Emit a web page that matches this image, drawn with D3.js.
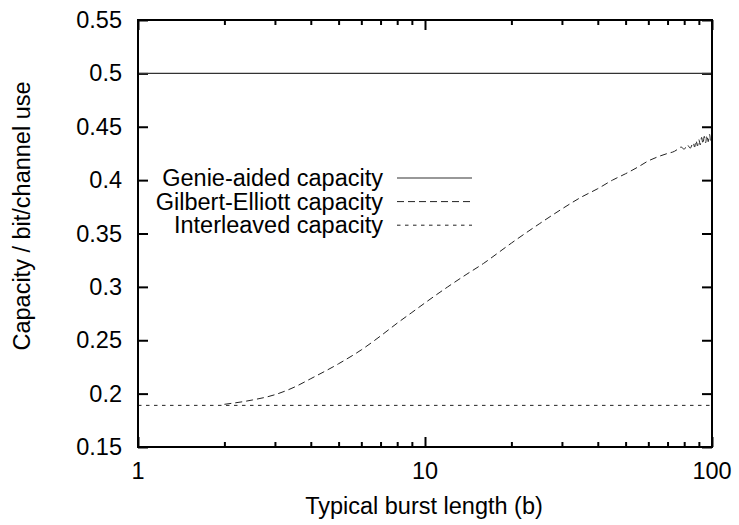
<!DOCTYPE html>
<html>
<head>
<meta charset="utf-8">
<script src="https://cdn.jsdelivr.net/npm/d3@7/dist/d3.min.js"></script>
<style>
  html, body { margin: 0; padding: 0; background: #fff; }
  svg { display: block; }
  text { font-family: "Liberation Sans", Arial, sans-serif; font-size: 23.5px; fill: #000; }
</style>
</head>
<body>
<svg id="chart" width="739" height="525"></svg>
<script>
// Typical burst length b and the Gilbert-Elliott capacity at each b
const burstLength = [2, 2.5, 3, 3.5, 4, 5, 6, 7, 8, 9, 10, 12, 14, 16, 18, 20, 25, 30, 35, 40, 45, 50,
  55, 60, 65, 70, 74, 76, 78, 80, 82, 84, 86, 87, 88, 89, 90, 91, 92, 93, 94, 95, 96, 97, 98, 99, 100];
const gilbertElliott = [0.190, 0.194, 0.199, 0.206, 0.214, 0.228, 0.241, 0.254, 0.266, 0.276, 0.285, 0.300,
  0.312, 0.322, 0.332, 0.341, 0.359, 0.373, 0.384, 0.392, 0.400, 0.406,
  0.412, 0.418, 0.422, 0.425, 0.427, 0.429, 0.431, 0.429, 0.433, 0.430, 0.435, 0.431, 0.437, 0.432,
  0.438, 0.433, 0.440, 0.434, 0.441, 0.435, 0.442, 0.436, 0.443, 0.437, 0.442];
// Constant capacities
const genieAided = 0.5;
const interleaved = 0.189;

const yTicks = [0.15, 0.2, 0.25, 0.3, 0.35, 0.4, 0.45, 0.5, 0.55];
const yTickLabels = ["0.15", "0.2", "0.25", "0.3", "0.35", "0.4", "0.45", "0.5", "0.55"];
const xMajorTicks = [1, 10, 100];
const xMinorTicks = [2, 3, 4, 5, 6, 7, 8, 9, 20, 30, 40, 50, 60, 70, 80, 90];

const legendNames = ["Genie-aided capacity", "Gilbert-Elliott capacity", "Interleaved capacity"];
const legendDash = ["none", "7,4", "3.5,4.5"];

const svg = d3.select("#chart");
const plotLeft = 138, plotRight = 712, plotTop = 20, plotBottom = 447;

const x = d3.scaleLog().domain([1, 100]).range([plotLeft, plotRight]);
const y = d3.scaleLinear().domain([0.15, 0.55]).range([plotBottom, plotTop]);

// Axes with ticks on all four sides, pointing into the plot
const tickStroke = g => g.selectAll("line").attr("stroke", "#000").attr("stroke-width", 2);
const noDomain = g => g.select(".domain").remove();

function tickRow(axis, values, size, transform) {
  svg.append("g").attr("transform", transform)
    .call(axis.tickValues(values).tickSize(size).tickFormat(""))
    .call(noDomain).call(tickStroke);
}
tickRow(d3.axisTop(x), xMajorTicks, 10, `translate(0,${plotBottom})`);
tickRow(d3.axisTop(x), xMinorTicks, 5, `translate(0,${plotBottom})`);
tickRow(d3.axisBottom(x), xMajorTicks, 10, `translate(0,${plotTop})`);
tickRow(d3.axisBottom(x), xMinorTicks, 5, `translate(0,${plotTop})`);
tickRow(d3.axisRight(y), yTicks, 10, `translate(${plotLeft},0)`);
tickRow(d3.axisLeft(y), yTicks, 10, `translate(${plotRight},0)`);

// Tick labels
svg.append("g").selectAll("text").data(yTicks).join("text")
  .attr("x", plotLeft - 16).attr("y", d => y(d) + 8)
  .attr("text-anchor", "end")
  .text((d, i) => yTickLabels[i]);
svg.append("g").selectAll("text").data(xMajorTicks).join("text")
  .attr("x", d => x(d)).attr("y", plotBottom + 32)
  .attr("text-anchor", "middle")
  .text(d => d);

// Axis titles
svg.append("text").attr("x", (plotLeft + plotRight) / 2 - 1).attr("y", 514)
  .attr("text-anchor", "middle").text("Typical burst length (b)");
svg.append("text").attr("transform", `translate(30,216) rotate(-90)`)
  .attr("text-anchor", "middle").text("Capacity / bit/channel use");

// Curves
const plot = svg.append("g");
plot.append("line")
  .attr("x1", x(1)).attr("x2", x(100))
  .attr("y1", y(genieAided)).attr("y2", y(genieAided))
  .attr("stroke", "#333").attr("stroke-width", 1.2);
plot.append("line")
  .attr("x1", x(1)).attr("x2", x(100))
  .attr("y1", y(interleaved)).attr("y2", y(interleaved))
  .attr("stroke", "#222").attr("stroke-width", 1).attr("stroke-dasharray", legendDash[2]);
const line = d3.line().x((d, i) => x(burstLength[i])).y(d => y(d)).curve(d3.curveMonotoneX);
plot.append("path").datum(gilbertElliott)
  .attr("d", line)
  .attr("fill", "none").attr("stroke", "#222").attr("stroke-width", 1)
  .attr("stroke-dasharray", legendDash[1]);

// Legend
const legend = svg.append("g").selectAll("g").data(legendNames).join("g")
  .attr("transform", (d, i) => `translate(0,${178 + i * 23.6})`);
legend.append("text").attr("x", 383).attr("y", 8).attr("text-anchor", "end").text(d => d);
legend.append("line").attr("x1", 397).attr("x2", 472).attr("y1", 0).attr("y2", 0)
  .attr("stroke", (d, i) => i === 0 ? "#333" : "#222")
  .attr("stroke-width", (d, i) => i === 0 ? 1.2 : 1)
  .attr("stroke-dasharray", (d, i) => legendDash[i]);

// Frame
svg.append("rect").attr("x", plotLeft).attr("y", plotTop)
  .attr("width", plotRight - plotLeft).attr("height", plotBottom - plotTop)
  .attr("fill", "none").attr("stroke", "#000").attr("stroke-width", 2);
</script>
</body>
</html>
